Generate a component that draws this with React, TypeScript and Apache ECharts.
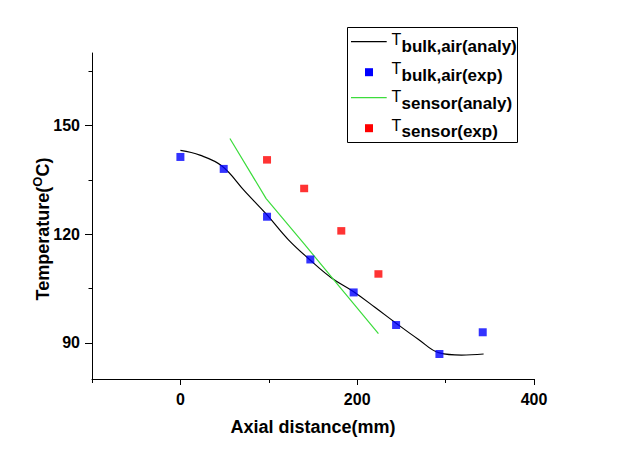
import React, { useEffect, useRef } from "react";
import * as echarts from "echarts";

// ---- data ----
const bulkAnalyX = [0, 22, 47, 73, 98, 122, 147, 171, 196, 220, 244, 269, 293, 318, 343];
const bulkAnalyY = [143.1, 141.8, 138.8, 131.8, 125.3, 118.5, 112.8, 107.9, 104.1, 99.8, 95.4, 91.0, 87.2, 86.6, 86.9];

const bulkExpX = [0, 49, 98, 147, 196, 244, 293, 342];
const bulkExpY = [141.3, 138.0, 124.8, 113.0, 103.9, 94.9, 86.9, 92.9];

const sensorAnalyX = [56, 97, 140, 182, 224];
const sensorAnalyY = [146.4, 129.8, 117.3, 104.9, 92.5];

const sensorExpX = [98, 140, 182, 224];
const sensorExpY = [140.5, 132.6, 120.9, 109.0];

const xLabelValues = [0, 200, 400];
const xMinorTicks = [-100, 100, 300];
const yLabelValues = [90, 120, 150];
const yMinorTicks = [105, 135, 165];

const legendItems = [
  { sub: "bulk,air(analy)", kind: "line", color: "#000000" },
  { sub: "bulk,air(exp)", kind: "square", color: "#0000ff" },
  { sub: "sensor(analy)", kind: "line", color: "#3cdc3c" },
  { sub: "sensor(exp)", kind: "square", color: "#ff0000" },
];

const zip = (xs: number[], ys: number[]) => xs.map((x, i) => [x, ys[i]]);

const FONT = "'Liberation Sans', Arial, sans-serif";

export default function App() {
  const ref = useRef<HTMLDivElement>(null);
  useEffect(() => {
    if (!ref.current) return;
    const chart = echarts.init(ref.current, undefined, { renderer: "svg" });

    const graphics: any[] = [
      {
        type: "rect",
        shape: { x: 347.5, y: 27.5, width: 170, height: 115 },
        style: { fill: "#ffffff", stroke: "#000000", lineWidth: 1 },
        z: 10,
      },
    ];
    legendItems.forEach((it, k) => {
      const iy = 41.7 + 28 * k;
      const tBase = 45 + 28.7 * k;
      const sBase = 52.7 + 28.4 * k;
      if (it.kind === "line") {
        graphics.push({
          type: "line",
          shape: { x1: 351, y1: iy, x2: 386.7, y2: iy },
          style: { stroke: it.color, lineWidth: 1.2 },
          z: 11,
        });
      } else {
        graphics.push({
          type: "rect",
          shape: { x: 365, y: iy + 2.5 - 4, width: 8, height: 8 },
          style: { fill: it.color },
          z: 11,
        });
      }
      graphics.push({
        type: "text",
        x: 391.5,
        y: tBase - 5.6,
        style: { text: "T", fontFamily: FONT, fontSize: 16, fill: "#000", verticalAlign: "middle", align: "left" },
        z: 11,
      });
      graphics.push({
        type: "text",
        x: 401.5,
        y: sBase - 6,
        style: { text: it.sub, fontFamily: FONT, fontSize: 17, fontWeight: "bold", fill: "#000", verticalAlign: "middle", align: "left" },
        z: 11,
      });
    });
    graphics.push({
      type: "text",
      x: 313,
      y: 427,
      style: { text: "Axial distance(mm)", fontFamily: FONT, fontSize: 18, fontWeight: "bold", fill: "#000", align: "center", verticalAlign: "middle" },
    });
    graphics.push({
      type: "text",
      x: 43,
      y: 229,
      rotation: Math.PI / 2,
      style: {
        text: "{a|Temperature(}{s|O}{a|C)}",
        align: "center",
        verticalAlign: "middle",
        fill: "#000",
        rich: {
          a: { fontFamily: FONT, fontSize: 18, fontWeight: "bold", lineHeight: 24, fill: "#000" },
          s: { fontFamily: FONT, fontSize: 13, fontWeight: "bold", lineHeight: 14, verticalAlign: "top", fill: "#000" },
        },
      },
    });

    const axisCommon = {
      type: "value" as const,
      splitLine: { show: false },
    };

    chart.setOption({
      animation: false,
      backgroundColor: "#ffffff",
      grid: { left: 92, right: 85, top: 53, bottom: 73, containLabel: false },
      xAxis: [
        {
          ...axisCommon,
          position: "bottom",
          min: -100,
          max: 400,
          axisLine: { show: true, onZero: false, lineStyle: { color: "#000", width: 1 } },
          axisTick: { show: true, customValues: xLabelValues, length: 6, lineStyle: { color: "#000" } },
          axisLabel: { customValues: xLabelValues, margin: 12, fontFamily: FONT, fontSize: 16, fontWeight: "bold", color: "#000" },
        },
        {
          ...axisCommon,
          position: "bottom",
          offset: 0,
          min: -100,
          max: 400,
          axisLine: { show: false, onZero: false },
          axisTick: { show: true, customValues: xMinorTicks, length: 4, lineStyle: { color: "#000" } },
          axisLabel: { show: false },
        },
      ],
      yAxis: [
        {
          ...axisCommon,
          position: "left",
          min: 80,
          max: 170,
          axisLine: { show: true, onZero: false, lineStyle: { color: "#000", width: 1 } },
          axisTick: { show: true, customValues: yLabelValues, length: 7, lineStyle: { color: "#000" } },
          axisLabel: { customValues: yLabelValues, margin: 12, fontFamily: FONT, fontSize: 16, fontWeight: "bold", color: "#000" },
        },
        {
          ...axisCommon,
          position: "left",
          offset: 0,
          min: 80,
          max: 170,
          axisLine: { show: false, onZero: false },
          axisTick: { show: true, customValues: yMinorTicks, length: 3.5, lineStyle: { color: "#000" } },
          axisLabel: { show: false },
        },
      ],
      series: [
        {
          name: "T bulk,air(analy)",
          type: "line",
          data: zip(bulkAnalyX, bulkAnalyY),
          smooth: 0.4,
          symbol: "none",
          lineStyle: { color: "#000000", width: 1.2 },
          z: 2,
        },
        {
          name: "T sensor(analy)",
          type: "line",
          data: zip(sensorAnalyX, sensorAnalyY),
          symbol: "none",
          lineStyle: { color: "#3cdc3c", width: 1.2 },
          z: 2,
        },
        {
          name: "T bulk,air(exp)",
          type: "scatter",
          data: zip(bulkExpX, bulkExpY),
          symbol: "rect",
          symbolSize: 8,
          itemStyle: { color: "#0000ff" },
          z: 3,
        },
        {
          name: "T sensor(exp)",
          type: "scatter",
          data: zip(sensorExpX, sensorExpY),
          symbol: "rect",
          symbolSize: [8, 7.5],
          itemStyle: { color: "#ff0000" },
          z: 3,
        },
      ],
      graphic: graphics,
    });
    return () => chart.dispose();
  }, []);
  return (
    <div
      ref={ref}
      style={{ position: "fixed", left: 0, top: 0, width: 619, height: 452, background: "#fff" }}
    />
  );
}
